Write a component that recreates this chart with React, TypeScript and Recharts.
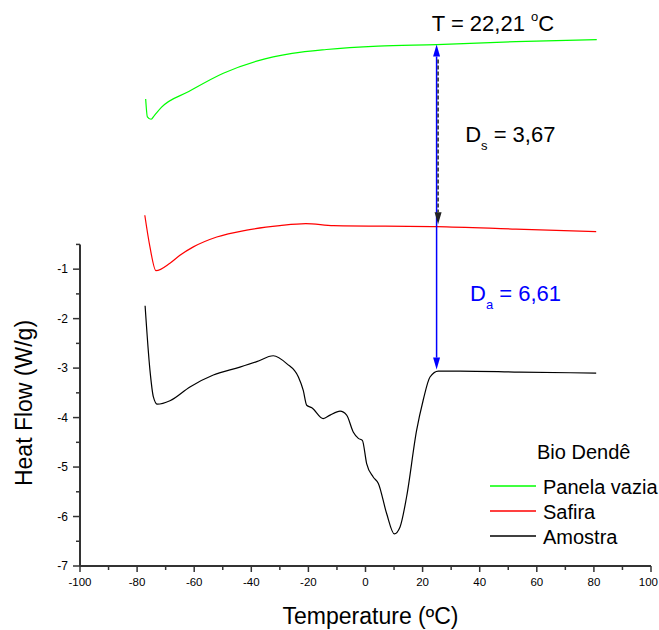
import * as React from "react";
import {
  LineChart,
  Line,
  XAxis,
  YAxis,
  ReferenceLine,
  ReferenceDot,
  Legend,
} from "recharts";

// Panela vazia (empty pan)
const panelaTemp = [-77.0, -76.4, -75.1, -73.9, -71.5, -61.9, -49.8, -37.8, -25.7, -13.7, 4.4, 24.9, 52.7, 81.0];
const panelaFlow = [2.44, 2.08, 2.03, 2.11, 2.27, 2.59, 2.96, 3.21, 3.36, 3.44, 3.51, 3.54, 3.6, 3.64];

// Safira
const safiraTemp = [-77.3, -75.5, -73.4, -68.5, -65, -60.3, -52.1, -41.6, -30, -20.9, -11.2, 24.9, 52.7, 80.8];
const safiraFlow = [0.09, -0.55, -1.03, -0.88, -0.72, -0.55, -0.35, -0.21, -0.12, -0.08, -0.12, -0.14, -0.19, -0.24];

// Amostra
const amostraTemp = [
  -77.2, -75.5, -74.3, -72.9, -68.5, -61.5, -53.3, -44, -38.1, -32.3, -27.6, -23.5,
  -21.8, -20.6, -18.8, -14.8, -12.4, -8.9, -6.6, -4.3, -2.5, -1.1, 0.4, 2.7, 4.5,
  7.4, 10.1, 12.1, 14.4, 17.9, 20.2, 22.6, 25.5, 33.1, 54, 80.8,
];
const amostraFlow = [
  -1.74, -3.04, -3.58, -3.73, -3.66, -3.38, -3.14, -2.98, -2.87, -2.75, -2.91, -3.18,
  -3.45, -3.75, -3.8, -4.02, -3.95, -3.87, -3.95, -4.29, -4.42, -4.46, -4.93, -5.2, -5.33,
  -5.94, -6.35, -6.21, -5.6, -4.26, -3.65, -3.18, -3.06, -3.06, -3.08, -3.1,
];

const xTicks = [-100, -90, -80, -70, -60, -50, -40, -30, -20, -10, 0, 10, 20, 30, 40, 50, 60, 70, 80, 90, 100];
const xTickLabels = [-100, -80, -60, -40, -20, 0, 20, 40, 60, 80, 100];
const yTicks = [-7, -6.5, -6, -5.5, -5, -4.5, -4, -3.5, -3, -2.5, -2, -1.5, -1, -0.5];
const yTickLabels = [-7, -6, -5, -4, -3, -2, -1];

// annotation (arrows) values
const markTemp = 24.9;
const panelaAtMark = 3.54;
const safiraAtMark = -0.14;
const amostraAtMark = -3.03;

const FONT = '"Liberation Sans", Arial, sans-serif';
const NARROW = '"Liberation Sans Narrow", "Liberation Sans", Arial, sans-serif';
const AXIS = "#333";
const BLUE = "#0000ff";

const toPoints = (t: number[], f: number[]) => t.map((x, i) => ({ x, y: f[i] }));

const series = [
  { name: "Panela vazia", color: "#00ff00", data: toPoints(panelaTemp, panelaFlow) },
  { name: "Safira", color: "#ff0000", data: toPoints(safiraTemp, safiraFlow) },
  { name: "Amostra", color: "#000000", data: toPoints(amostraTemp, amostraFlow) },
];

function renderXTick(props: any) {
  const { x, y, payload } = props;
  const major = xTickLabels.includes(payload.value);
  // last label would run past the window edge, so hold it inside
  const last = payload.value === xTickLabels[xTickLabels.length - 1];
  return (
    <g>
      <line x1={x} x2={x} y1={y} y2={y + (major ? 6 : 4)} stroke={AXIS} strokeWidth={1.5} />
      {major && (
        <text
          x={last ? x + 7 : x}
          y={y + 20}
          textAnchor={last ? "end" : "middle"}
          fontSize={11.5}
          fontFamily={NARROW}
          fill="#000"
        >
          {payload.value}
        </text>
      )}
    </g>
  );
}

function renderYTick(props: any) {
  const { x, y, payload } = props;
  const major = yTickLabels.includes(payload.value);
  return (
    <g>
      <line x1={x - (major ? 7 : 4)} x2={x} y1={y} y2={y} stroke={AXIS} strokeWidth={1.5} />
      {major && (
        <text x={x - 12} y={y + 4} textAnchor="end" fontSize={12} fontFamily={NARROW} fill="#000">
          {payload.value}
        </text>
      )}
    </g>
  );
}

function XTitle(props: any) {
  const vb = props.viewBox;
  return (
    <text x={vb.x + vb.width / 2 + 5} y={vb.y + 58} textAnchor="middle" fontSize={23} fontFamily={FONT} fill="#000">
      Temperature (ºC)
    </text>
  );
}

function YTitle(props: any) {
  const vb = props.viewBox;
  const cx = vb.x + 31.5;
  const cy = vb.y + vb.height / 2 + 119;
  return (
    <text x={cx} y={cy} transform={`rotate(-90, ${cx}, ${cy})`} textAnchor="middle" fontSize={23} fontFamily={FONT} fill="#000">
      Heat Flow (W/g)
    </text>
  );
}

const arrowShape = (color: string, dashed: boolean, dx: number) => (props: any) => {
  const { x1, y1, x2, y2 } = props;
  const dir = y2 > y1 ? 1 : -1;
  const hx = x2 + dx;
  const len = 12;
  const half = 3.5;
  return (
    <g>
      <line
        x1={x1 + dx}
        y1={y1}
        x2={hx}
        y2={y2 - dir * len}
        stroke={color}
        strokeWidth={1.5}
        strokeDasharray={dashed ? "4 2" : undefined}
      />
      <polygon points={`${hx},${y2} ${hx - half},${y2 - dir * len} ${hx + half},${y2 - dir * len}`} fill={color} />
    </g>
  );
};

const tempLabel = (props: any) => {
  const { x, y } = props.viewBox;
  return (
    <text x={x} y={y} fontSize={22} fontFamily={FONT} fill="#000">
      T = 22,21{" "}
      <tspan fontSize={13} dy={-10}>o</tspan>
      <tspan fontSize={22} dy={10}>C</tspan>
    </text>
  );
};

const subLabel = (main: string, sub: string, rest: string, color: string) => (props: any) => {
  const { x, y } = props.viewBox;
  return (
    <text x={x} y={y} fontSize={22} fontFamily={FONT} fill={color}>
      {main}
      <tspan fontSize={13} dy={8}>{sub}</tspan>
      <tspan fontSize={22} dy={-8}>{rest}</tspan>
    </text>
  );
};

function LegendBox(props: any) {
  const payload: any[] = props.payload || [];
  const items = series.map((s) => payload.find((p) => p.value === s.name) || { value: s.name, color: s.color });
  return (
    <svg width={178} height={115} style={{ display: "block", overflow: "visible" }}>
      <text x={57} y={24} fontSize={20} fontFamily={FONT} fill="#000">
        Bio Dendê
      </text>
      {items.map((p, i) => (
        <g key={p.value}>
          <line x1={10} x2={56} y1={51 + i * 25} y2={51 + i * 25} stroke={p.color} strokeWidth={1.5} />
          <text x={63} y={58.5 + i * 25} fontSize={20} fontFamily={FONT} fill="#000">
            {p.value}
          </text>
        </g>
      ))}
    </svg>
  );
}

export default function App() {
  return (
    <div style={{ position: "absolute", left: 0, top: 0, background: "#fff" }}>
      <LineChart width={659} height={630} margin={{ top: 2, right: 8, bottom: 0, left: 0 }}>
        <XAxis
          type="number"
          dataKey="x"
          domain={[-100, 100]}
          ticks={xTicks}
          interval={0}
          tick={renderXTick}
          tickSize={0}
          tickMargin={0}
          tickLine={false}
          axisLine={{ stroke: AXIS, strokeWidth: 2 }}
          height={64}
          label={{ content: XTitle }}
          allowDataOverflow
        />
        <YAxis
          type="number"
          domain={[-7, 4.4]}
          ticks={yTicks}
          interval={0}
          tick={renderYTick}
          tickSize={0}
          tickMargin={0}
          tickLine={false}
          axisLine={false}
          width={80}
          label={{ content: YTitle }}
          allowDataOverflow
        />
        <ReferenceLine
          segment={[{ x: -100, y: -7 }, { x: -100, y: -0.5 }]}
          stroke={AXIS}
          strokeWidth={2}
          ifOverflow="visible"
        />
        {series.map((s) => (
          <Line
            key={s.name}
            name={s.name}
            data={s.data}
            dataKey="y"
            type="monotone"
            stroke={s.color}
            strokeWidth={1.2}
            dot={false}
            activeDot={false}
            isAnimationActive={false}
          />
        ))}
        <ReferenceLine
          segment={[{ x: markTemp, y: safiraAtMark }, { x: markTemp, y: panelaAtMark }]}
          shape={arrowShape(BLUE, false, 0)}
          ifOverflow="visible"
        />
        <ReferenceLine
          segment={[{ x: markTemp, y: panelaAtMark - 0.3 }, { x: markTemp, y: safiraAtMark + 0.05 }]}
          shape={arrowShape("#222", true, 1.5)}
          ifOverflow="visible"
        />
        <ReferenceLine
          segment={[{ x: markTemp, y: safiraAtMark }, { x: markTemp, y: amostraAtMark }]}
          shape={arrowShape(BLUE, false, 0)}
          ifOverflow="visible"
        />
        <ReferenceDot x={23.2} y={3.81} r={0} fill="none" stroke="none" label={{ content: tempLabel }} />
        <ReferenceDot x={34.9} y={1.57} r={0} fill="none" stroke="none" label={{ content: subLabel("D", "s", " = 3,67", "#000") }} />
        <ReferenceDot x={36.6} y={-1.65} r={0} fill="none" stroke="none" label={{ content: subLabel("D", "a", " = 6,61", BLUE) }} />
        <Legend
          layout="horizontal"
          align="center"
          verticalAlign="middle"
          content={LegendBox}
          wrapperStyle={{ left: 480, top: 435, width: 178, height: 115 }}
        />
      </LineChart>
    </div>
  );
}
